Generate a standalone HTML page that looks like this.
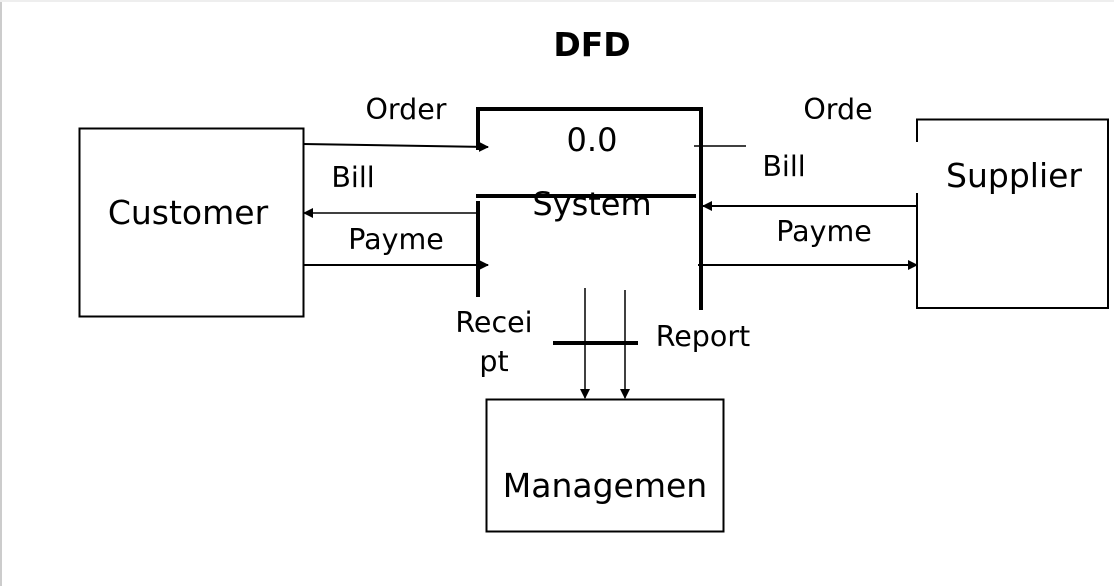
<!DOCTYPE html>
<html><head><style>
html,body{margin:0;padding:0;background:#fff;}
svg{display:block;}
text{font-family:"DejaVu Sans","Liberation Sans",sans-serif;fill:#000;}
</style></head><body>
<svg width="1114" height="586" viewBox="0 0 1114 586" xmlns="http://www.w3.org/2000/svg">
<defs>
<marker id="a" markerWidth="10" markerHeight="10" refX="9" refY="5" orient="auto" markerUnits="userSpaceOnUse">
<path d="M0,0 L10,5 L0,10 z" fill="#000"/></marker>
</defs>
<rect x="0" y="0" width="1114" height="586" fill="#fff"/>
<line x1="1" y1="0" x2="1" y2="586" stroke="#ccc" stroke-width="2"/>
<line x1="0" y1="1" x2="1114" y2="1" stroke="#eee" stroke-width="2"/>
<text x="592" y="56" font-size="33" font-weight="bold" text-anchor="middle">DFD</text>
<rect x="79.5" y="128.5" width="224" height="188" fill="none" stroke="#000" stroke-width="2"/>
<text x="188" y="224" font-size="33" text-anchor="middle">Customer</text>
<path d="M478,150 V109 H701 V310" fill="none" stroke="#000" stroke-width="4"/>
<line x1="476" y1="196" x2="696" y2="196" stroke="#000" stroke-width="4"/>
<line x1="478" y1="201" x2="478" y2="297" stroke="#000" stroke-width="4"/>
<text x="592" y="151" font-size="32" text-anchor="middle">0.0</text>
<text x="592" y="215" font-size="32" text-anchor="middle">System</text>
<line x1="303" y1="144" x2="488" y2="147" stroke="#000" stroke-width="2" marker-end="url(#a)"/>
<line x1="476" y1="213" x2="304" y2="213" stroke="#000" stroke-width="1.5" marker-end="url(#a)"/>
<line x1="303" y1="265" x2="488" y2="265" stroke="#000" stroke-width="2" marker-end="url(#a)"/>
<path d="M917,142 V119.5 H1108 V308 H917 V193" fill="none" stroke="#000" stroke-width="2"/>
<text x="1014" y="187" font-size="33" text-anchor="middle">Supplier</text>
<line x1="694" y1="146" x2="746" y2="146" stroke="#000" stroke-width="1.5"/>
<line x1="917" y1="206" x2="703" y2="206" stroke="#000" stroke-width="2" marker-end="url(#a)"/>
<line x1="698" y1="265" x2="917" y2="265" stroke="#000" stroke-width="2" marker-end="url(#a)"/>
<rect x="486.5" y="399.5" width="237" height="132" fill="none" stroke="#000" stroke-width="2"/>
<text x="605" y="497" font-size="33" text-anchor="middle">Managemen</text>
<line x1="585" y1="288" x2="585" y2="398" stroke="#000" stroke-width="1.5" marker-end="url(#a)"/>
<line x1="625" y1="290" x2="625" y2="398" stroke="#000" stroke-width="1.5" marker-end="url(#a)"/>
<line x1="553" y1="343" x2="638" y2="343" stroke="#000" stroke-width="4"/>
<g font-size="28.5" text-anchor="middle">
<text x="406" y="119">Order</text>
<text x="353" y="187">Bill</text>
<text x="396" y="249">Payme</text>
<text x="838" y="119">Orde</text>
<text x="784" y="176">Bill</text>
<text x="824" y="241">Payme</text>
<text x="494" y="332">Recei</text>
<text x="494" y="371">pt</text>
<text x="703" y="346">Report</text>
</g>
</svg>
</body></html>
